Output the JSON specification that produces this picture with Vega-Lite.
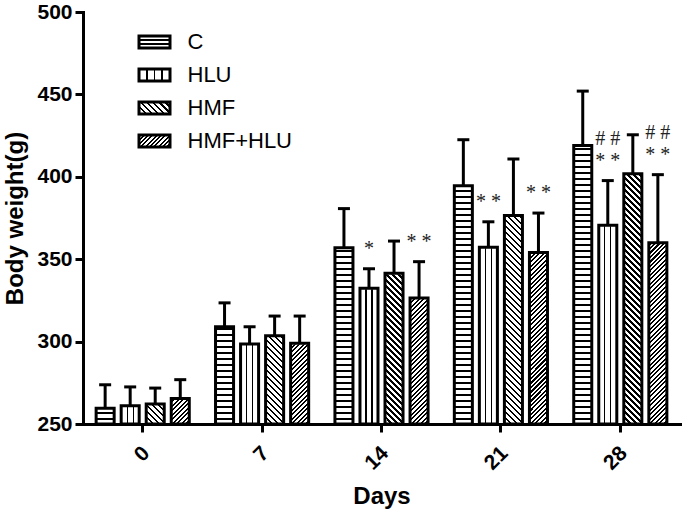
{
"$schema": "https://vega.github.io/schema/vega-lite/v6.json",
"width": 597, "height": 412,
"autosize": "none",
"padding": {"left": 83, "top": 12, "right": 10, "bottom": 85},
"background": "white",
"data": {"values": [
{"day":"0","group":"C","value":259.5,"err":273.8,"sig":"","sig2":""},
{"day":"0","group":"HLU","value":261.1,"err":272.5,"sig":"","sig2":""},
{"day":"0","group":"HMF","value":262.1,"err":271.8,"sig":"","sig2":""},
{"day":"0","group":"HMF+HLU","value":265.4,"err":276.9,"sig":"","sig2":""},
{"day":"7","group":"C","value":309,"err":323.5,"sig":"","sig2":""},
{"day":"7","group":"HLU","value":298.5,"err":309,"sig":"","sig2":""},
{"day":"7","group":"HMF","value":303.5,"err":315.5,"sig":"","sig2":""},
{"day":"7","group":"HMF+HLU","value":299,"err":315.5,"sig":"","sig2":""},
{"day":"14","group":"C","value":357,"err":380.7,"sig":"","sig2":""},
{"day":"14","group":"HLU","value":332.4,"err":344.2,"sig":"*","sig2":""},
{"day":"14","group":"HMF","value":341.5,"err":361,"sig":"","sig2":""},
{"day":"14","group":"HMF+HLU","value":326.5,"err":348.5,"sig":"* *","sig2":""},
{"day":"21","group":"C","value":394.5,"err":422.5,"sig":"","sig2":""},
{"day":"21","group":"HLU","value":357.3,"err":372.7,"sig":"* *","sig2":""},
{"day":"21","group":"HMF","value":376.5,"err":410.8,"sig":"","sig2":""},
{"day":"21","group":"HMF+HLU","value":354,"err":378,"sig":"* *","sig2":""},
{"day":"28","group":"C","value":419,"err":452,"sig":"","sig2":""},
{"day":"28","group":"HLU","value":370.6,"err":397.7,"sig":"* *","sig2":"# #"},
{"day":"28","group":"HMF","value":401.8,"err":425.5,"sig":"","sig2":""},
{"day":"28","group":"HMF+HLU","value":360,"err":401.3,"sig":"* *","sig2":"# #"}
]},
"encoding": {
"x": {"field":"day","type":"nominal","scale":{"domain":["0","7","14","21","28"],"paddingInner":0.22,"paddingOuter":0.11},"axis":{"title":"Days"}},
"xOffset": {"field":"group","type":"nominal","scale":{"domain":["C","HLU","HMF","HMF+HLU"],"paddingInner":0.28,"paddingOuter":0}},
"y": {"field":"value","type":"quantitative","scale":{"domain":[250,500],"zero":false,"nice":false},"axis":{"title":"Body weight(g)","values":[250,300,350,400,450,500]}}
},
"layer": [
{"transform":[{"filter":"datum.group==='C'"}],
 "mark":{"type":"bar","strokeWidth":0,"fill":{"gradient":"linear","x1":0,"y1":0,"x2":0,"y2":1,"stops":[
{"offset":0,"color":"#000"},{"offset":0.005,"color":"#000"},{"offset":0.005,"color":"#fff"},{"offset":0.02,"color":"#fff"},
{"offset":0.02,"color":"#000"},{"offset":0.025,"color":"#000"},{"offset":0.025,"color":"#fff"},{"offset":0.04,"color":"#fff"},
{"offset":0.04,"color":"#000"},{"offset":0.045,"color":"#000"},{"offset":0.045,"color":"#fff"},{"offset":0.06,"color":"#fff"},
{"offset":0.06,"color":"#000"},{"offset":0.065,"color":"#000"},{"offset":0.065,"color":"#fff"},{"offset":0.08,"color":"#fff"},
{"offset":0.08,"color":"#000"},{"offset":0.085,"color":"#000"},{"offset":0.085,"color":"#fff"},{"offset":0.1,"color":"#fff"},
{"offset":0.1,"color":"#000"},{"offset":0.105,"color":"#000"},{"offset":0.105,"color":"#fff"},{"offset":0.12,"color":"#fff"},
{"offset":0.12,"color":"#000"},{"offset":0.125,"color":"#000"},{"offset":0.125,"color":"#fff"},{"offset":0.14,"color":"#fff"},
{"offset":0.14,"color":"#000"},{"offset":0.145,"color":"#000"},{"offset":0.145,"color":"#fff"},{"offset":0.16,"color":"#fff"},
{"offset":0.16,"color":"#000"},{"offset":0.165,"color":"#000"},{"offset":0.165,"color":"#fff"},{"offset":0.18,"color":"#fff"},
{"offset":0.18,"color":"#000"},{"offset":0.185,"color":"#000"},{"offset":0.185,"color":"#fff"},{"offset":0.2,"color":"#fff"},
{"offset":0.2,"color":"#000"},{"offset":0.205,"color":"#000"},{"offset":0.205,"color":"#fff"},{"offset":0.22,"color":"#fff"},
{"offset":0.22,"color":"#000"},{"offset":0.225,"color":"#000"},{"offset":0.225,"color":"#fff"},{"offset":0.24,"color":"#fff"},
{"offset":0.24,"color":"#000"},{"offset":0.245,"color":"#000"},{"offset":0.245,"color":"#fff"},{"offset":0.26,"color":"#fff"},
{"offset":0.26,"color":"#000"},{"offset":0.265,"color":"#000"},{"offset":0.265,"color":"#fff"},{"offset":0.28,"color":"#fff"},
{"offset":0.28,"color":"#000"},{"offset":0.285,"color":"#000"},{"offset":0.285,"color":"#fff"},{"offset":0.3,"color":"#fff"},
{"offset":0.3,"color":"#000"},{"offset":0.305,"color":"#000"},{"offset":0.305,"color":"#fff"},{"offset":0.32,"color":"#fff"},
{"offset":0.32,"color":"#000"},{"offset":0.325,"color":"#000"},{"offset":0.325,"color":"#fff"},{"offset":0.34,"color":"#fff"},
{"offset":0.34,"color":"#000"},{"offset":0.345,"color":"#000"},{"offset":0.345,"color":"#fff"},{"offset":0.36,"color":"#fff"},
{"offset":0.36,"color":"#000"},{"offset":0.365,"color":"#000"},{"offset":0.365,"color":"#fff"},{"offset":0.38,"color":"#fff"},
{"offset":0.38,"color":"#000"},{"offset":0.385,"color":"#000"},{"offset":0.385,"color":"#fff"},{"offset":0.4,"color":"#fff"},
{"offset":0.4,"color":"#000"},{"offset":0.405,"color":"#000"},{"offset":0.405,"color":"#fff"},{"offset":0.42,"color":"#fff"},
{"offset":0.42,"color":"#000"},{"offset":0.425,"color":"#000"},{"offset":0.425,"color":"#fff"},{"offset":0.44,"color":"#fff"},
{"offset":0.44,"color":"#000"},{"offset":0.445,"color":"#000"},{"offset":0.445,"color":"#fff"},{"offset":0.46,"color":"#fff"},
{"offset":0.46,"color":"#000"},{"offset":0.465,"color":"#000"},{"offset":0.465,"color":"#fff"},{"offset":0.48,"color":"#fff"},
{"offset":0.48,"color":"#000"},{"offset":0.485,"color":"#000"},{"offset":0.485,"color":"#fff"},{"offset":0.5,"color":"#fff"},
{"offset":0.5,"color":"#000"},{"offset":0.505,"color":"#000"},{"offset":0.505,"color":"#fff"},{"offset":0.52,"color":"#fff"},
{"offset":0.52,"color":"#000"},{"offset":0.525,"color":"#000"},{"offset":0.525,"color":"#fff"},{"offset":0.54,"color":"#fff"},
{"offset":0.54,"color":"#000"},{"offset":0.545,"color":"#000"},{"offset":0.545,"color":"#fff"},{"offset":0.56,"color":"#fff"},
{"offset":0.56,"color":"#000"},{"offset":0.565,"color":"#000"},{"offset":0.565,"color":"#fff"},{"offset":0.58,"color":"#fff"},
{"offset":0.58,"color":"#000"},{"offset":0.585,"color":"#000"},{"offset":0.585,"color":"#fff"},{"offset":0.6,"color":"#fff"},
{"offset":0.6,"color":"#000"},{"offset":0.605,"color":"#000"},{"offset":0.605,"color":"#fff"},{"offset":0.62,"color":"#fff"},
{"offset":0.62,"color":"#000"},{"offset":0.625,"color":"#000"},{"offset":0.625,"color":"#fff"},{"offset":0.64,"color":"#fff"},
{"offset":0.64,"color":"#000"},{"offset":0.645,"color":"#000"},{"offset":0.645,"color":"#fff"},{"offset":0.66,"color":"#fff"},
{"offset":0.66,"color":"#000"},{"offset":0.665,"color":"#000"},{"offset":0.665,"color":"#fff"},{"offset":0.68,"color":"#fff"},
{"offset":0.68,"color":"#000"},{"offset":0.685,"color":"#000"},{"offset":0.685,"color":"#fff"},{"offset":0.7,"color":"#fff"},
{"offset":0.7,"color":"#000"},{"offset":0.705,"color":"#000"},{"offset":0.705,"color":"#fff"},{"offset":0.72,"color":"#fff"},
{"offset":0.72,"color":"#000"},{"offset":0.725,"color":"#000"},{"offset":0.725,"color":"#fff"},{"offset":0.74,"color":"#fff"},
{"offset":0.74,"color":"#000"},{"offset":0.745,"color":"#000"},{"offset":0.745,"color":"#fff"},{"offset":0.76,"color":"#fff"},
{"offset":0.76,"color":"#000"},{"offset":0.765,"color":"#000"},{"offset":0.765,"color":"#fff"},{"offset":0.78,"color":"#fff"},
{"offset":0.78,"color":"#000"},{"offset":0.785,"color":"#000"},{"offset":0.785,"color":"#fff"},{"offset":0.8,"color":"#fff"},
{"offset":0.8,"color":"#000"},{"offset":0.805,"color":"#000"},{"offset":0.805,"color":"#fff"},{"offset":0.82,"color":"#fff"},
{"offset":0.82,"color":"#000"},{"offset":0.825,"color":"#000"},{"offset":0.825,"color":"#fff"},{"offset":0.84,"color":"#fff"},
{"offset":0.84,"color":"#000"},{"offset":0.845,"color":"#000"},{"offset":0.845,"color":"#fff"},{"offset":0.86,"color":"#fff"},
{"offset":0.86,"color":"#000"},{"offset":0.865,"color":"#000"},{"offset":0.865,"color":"#fff"},{"offset":0.88,"color":"#fff"},
{"offset":0.88,"color":"#000"},{"offset":0.885,"color":"#000"},{"offset":0.885,"color":"#fff"},{"offset":0.9,"color":"#fff"},
{"offset":0.9,"color":"#000"},{"offset":0.905,"color":"#000"},{"offset":0.905,"color":"#fff"},{"offset":0.92,"color":"#fff"},
{"offset":0.92,"color":"#000"},{"offset":0.925,"color":"#000"},{"offset":0.925,"color":"#fff"},{"offset":0.94,"color":"#fff"},
{"offset":0.94,"color":"#000"},{"offset":0.945,"color":"#000"},{"offset":0.945,"color":"#fff"},{"offset":0.96,"color":"#fff"},
{"offset":0.96,"color":"#000"},{"offset":0.965,"color":"#000"},{"offset":0.965,"color":"#fff"},{"offset":0.98,"color":"#fff"},
{"offset":0.98,"color":"#000"},{"offset":0.985,"color":"#000"},{"offset":0.985,"color":"#fff"},{"offset":1,"color":"#fff"}
]}},
 "encoding":{"y":{"datum":432,"type":"quantitative"},"y2":{"datum":250}}},
{"transform":[{"filter":"datum.group==='HLU'"}],
 "mark":{"type":"bar","strokeWidth":0,"fill":{"gradient":"linear","x1":0,"y1":0,"x2":1,"y2":0,"stops":[
{"offset":0,"color":"#fff"},{"offset":0.3,"color":"#fff"},{"offset":0.3,"color":"#000"},{"offset":0.37,"color":"#000"},{"offset":0.37,"color":"#fff"},
{"offset":0.63,"color":"#fff"},{"offset":0.63,"color":"#000"},{"offset":0.7,"color":"#000"},{"offset":0.7,"color":"#fff"},{"offset":1,"color":"#fff"}
]}},
 "encoding":{"y2":{"datum":250}}},
{"transform":[{"filter":"datum.group==='HMF'"}],
 "mark":{"type":"bar","strokeWidth":0,"fill":{"gradient":"linear","x1":0,"y1":1,"x2":0.0678,"y2":-0.0595,"stops":[
{"offset":0,"color":"#000"},{"offset":0.008,"color":"#000"},{"offset":0.008,"color":"#fff"},{"offset":0.02,"color":"#fff"},
{"offset":0.02,"color":"#000"},{"offset":0.028,"color":"#000"},{"offset":0.028,"color":"#fff"},{"offset":0.04,"color":"#fff"},
{"offset":0.04,"color":"#000"},{"offset":0.048,"color":"#000"},{"offset":0.048,"color":"#fff"},{"offset":0.06,"color":"#fff"},
{"offset":0.06,"color":"#000"},{"offset":0.068,"color":"#000"},{"offset":0.068,"color":"#fff"},{"offset":0.08,"color":"#fff"},
{"offset":0.08,"color":"#000"},{"offset":0.088,"color":"#000"},{"offset":0.088,"color":"#fff"},{"offset":0.1,"color":"#fff"},
{"offset":0.1,"color":"#000"},{"offset":0.108,"color":"#000"},{"offset":0.108,"color":"#fff"},{"offset":0.12,"color":"#fff"},
{"offset":0.12,"color":"#000"},{"offset":0.128,"color":"#000"},{"offset":0.128,"color":"#fff"},{"offset":0.14,"color":"#fff"},
{"offset":0.14,"color":"#000"},{"offset":0.148,"color":"#000"},{"offset":0.148,"color":"#fff"},{"offset":0.16,"color":"#fff"},
{"offset":0.16,"color":"#000"},{"offset":0.168,"color":"#000"},{"offset":0.168,"color":"#fff"},{"offset":0.18,"color":"#fff"},
{"offset":0.18,"color":"#000"},{"offset":0.188,"color":"#000"},{"offset":0.188,"color":"#fff"},{"offset":0.2,"color":"#fff"},
{"offset":0.2,"color":"#000"},{"offset":0.208,"color":"#000"},{"offset":0.208,"color":"#fff"},{"offset":0.22,"color":"#fff"},
{"offset":0.22,"color":"#000"},{"offset":0.228,"color":"#000"},{"offset":0.228,"color":"#fff"},{"offset":0.24,"color":"#fff"},
{"offset":0.24,"color":"#000"},{"offset":0.248,"color":"#000"},{"offset":0.248,"color":"#fff"},{"offset":0.26,"color":"#fff"},
{"offset":0.26,"color":"#000"},{"offset":0.268,"color":"#000"},{"offset":0.268,"color":"#fff"},{"offset":0.28,"color":"#fff"},
{"offset":0.28,"color":"#000"},{"offset":0.288,"color":"#000"},{"offset":0.288,"color":"#fff"},{"offset":0.3,"color":"#fff"},
{"offset":0.3,"color":"#000"},{"offset":0.308,"color":"#000"},{"offset":0.308,"color":"#fff"},{"offset":0.32,"color":"#fff"},
{"offset":0.32,"color":"#000"},{"offset":0.328,"color":"#000"},{"offset":0.328,"color":"#fff"},{"offset":0.34,"color":"#fff"},
{"offset":0.34,"color":"#000"},{"offset":0.348,"color":"#000"},{"offset":0.348,"color":"#fff"},{"offset":0.36,"color":"#fff"},
{"offset":0.36,"color":"#000"},{"offset":0.368,"color":"#000"},{"offset":0.368,"color":"#fff"},{"offset":0.38,"color":"#fff"},
{"offset":0.38,"color":"#000"},{"offset":0.388,"color":"#000"},{"offset":0.388,"color":"#fff"},{"offset":0.4,"color":"#fff"},
{"offset":0.4,"color":"#000"},{"offset":0.408,"color":"#000"},{"offset":0.408,"color":"#fff"},{"offset":0.42,"color":"#fff"},
{"offset":0.42,"color":"#000"},{"offset":0.428,"color":"#000"},{"offset":0.428,"color":"#fff"},{"offset":0.44,"color":"#fff"},
{"offset":0.44,"color":"#000"},{"offset":0.448,"color":"#000"},{"offset":0.448,"color":"#fff"},{"offset":0.46,"color":"#fff"},
{"offset":0.46,"color":"#000"},{"offset":0.468,"color":"#000"},{"offset":0.468,"color":"#fff"},{"offset":0.48,"color":"#fff"},
{"offset":0.48,"color":"#000"},{"offset":0.488,"color":"#000"},{"offset":0.488,"color":"#fff"},{"offset":0.5,"color":"#fff"},
{"offset":0.5,"color":"#000"},{"offset":0.508,"color":"#000"},{"offset":0.508,"color":"#fff"},{"offset":0.52,"color":"#fff"},
{"offset":0.52,"color":"#000"},{"offset":0.528,"color":"#000"},{"offset":0.528,"color":"#fff"},{"offset":0.54,"color":"#fff"},
{"offset":0.54,"color":"#000"},{"offset":0.548,"color":"#000"},{"offset":0.548,"color":"#fff"},{"offset":0.56,"color":"#fff"},
{"offset":0.56,"color":"#000"},{"offset":0.568,"color":"#000"},{"offset":0.568,"color":"#fff"},{"offset":0.58,"color":"#fff"},
{"offset":0.58,"color":"#000"},{"offset":0.588,"color":"#000"},{"offset":0.588,"color":"#fff"},{"offset":0.6,"color":"#fff"},
{"offset":0.6,"color":"#000"},{"offset":0.608,"color":"#000"},{"offset":0.608,"color":"#fff"},{"offset":0.62,"color":"#fff"},
{"offset":0.62,"color":"#000"},{"offset":0.628,"color":"#000"},{"offset":0.628,"color":"#fff"},{"offset":0.64,"color":"#fff"},
{"offset":0.64,"color":"#000"},{"offset":0.648,"color":"#000"},{"offset":0.648,"color":"#fff"},{"offset":0.66,"color":"#fff"},
{"offset":0.66,"color":"#000"},{"offset":0.668,"color":"#000"},{"offset":0.668,"color":"#fff"},{"offset":0.68,"color":"#fff"},
{"offset":0.68,"color":"#000"},{"offset":0.688,"color":"#000"},{"offset":0.688,"color":"#fff"},{"offset":0.7,"color":"#fff"},
{"offset":0.7,"color":"#000"},{"offset":0.708,"color":"#000"},{"offset":0.708,"color":"#fff"},{"offset":0.72,"color":"#fff"},
{"offset":0.72,"color":"#000"},{"offset":0.728,"color":"#000"},{"offset":0.728,"color":"#fff"},{"offset":0.74,"color":"#fff"},
{"offset":0.74,"color":"#000"},{"offset":0.748,"color":"#000"},{"offset":0.748,"color":"#fff"},{"offset":0.76,"color":"#fff"},
{"offset":0.76,"color":"#000"},{"offset":0.768,"color":"#000"},{"offset":0.768,"color":"#fff"},{"offset":0.78,"color":"#fff"},
{"offset":0.78,"color":"#000"},{"offset":0.788,"color":"#000"},{"offset":0.788,"color":"#fff"},{"offset":0.8,"color":"#fff"},
{"offset":0.8,"color":"#000"},{"offset":0.808,"color":"#000"},{"offset":0.808,"color":"#fff"},{"offset":0.82,"color":"#fff"},
{"offset":0.82,"color":"#000"},{"offset":0.828,"color":"#000"},{"offset":0.828,"color":"#fff"},{"offset":0.84,"color":"#fff"},
{"offset":0.84,"color":"#000"},{"offset":0.848,"color":"#000"},{"offset":0.848,"color":"#fff"},{"offset":0.86,"color":"#fff"},
{"offset":0.86,"color":"#000"},{"offset":0.868,"color":"#000"},{"offset":0.868,"color":"#fff"},{"offset":0.88,"color":"#fff"},
{"offset":0.88,"color":"#000"},{"offset":0.888,"color":"#000"},{"offset":0.888,"color":"#fff"},{"offset":0.9,"color":"#fff"},
{"offset":0.9,"color":"#000"},{"offset":0.908,"color":"#000"},{"offset":0.908,"color":"#fff"},{"offset":0.92,"color":"#fff"},
{"offset":0.92,"color":"#000"},{"offset":0.928,"color":"#000"},{"offset":0.928,"color":"#fff"},{"offset":0.94,"color":"#fff"},
{"offset":0.94,"color":"#000"},{"offset":0.948,"color":"#000"},{"offset":0.948,"color":"#fff"},{"offset":0.96,"color":"#fff"},
{"offset":0.96,"color":"#000"},{"offset":0.968,"color":"#000"},{"offset":0.968,"color":"#fff"},{"offset":0.98,"color":"#fff"},
{"offset":0.98,"color":"#000"},{"offset":0.988,"color":"#000"},{"offset":0.988,"color":"#fff"},{"offset":1,"color":"#fff"}
]}},
 "encoding":{"y":{"datum":421,"type":"quantitative"},"y2":{"datum":250}}},
{"transform":[{"filter":"datum.group==='HMF+HLU'"}],
 "mark":{"type":"bar","strokeWidth":0,"fill":{"gradient":"linear","x1":0,"y1":0,"x2":0.0941,"y2":1.0789,"stops":[
{"offset":0,"color":"#000"},{"offset":0.009,"color":"#000"},{"offset":0.009,"color":"#fff"},{"offset":0.02,"color":"#fff"},
{"offset":0.02,"color":"#000"},{"offset":0.029,"color":"#000"},{"offset":0.029,"color":"#fff"},{"offset":0.04,"color":"#fff"},
{"offset":0.04,"color":"#000"},{"offset":0.049,"color":"#000"},{"offset":0.049,"color":"#fff"},{"offset":0.06,"color":"#fff"},
{"offset":0.06,"color":"#000"},{"offset":0.069,"color":"#000"},{"offset":0.069,"color":"#fff"},{"offset":0.08,"color":"#fff"},
{"offset":0.08,"color":"#000"},{"offset":0.089,"color":"#000"},{"offset":0.089,"color":"#fff"},{"offset":0.1,"color":"#fff"},
{"offset":0.1,"color":"#000"},{"offset":0.109,"color":"#000"},{"offset":0.109,"color":"#fff"},{"offset":0.12,"color":"#fff"},
{"offset":0.12,"color":"#000"},{"offset":0.129,"color":"#000"},{"offset":0.129,"color":"#fff"},{"offset":0.14,"color":"#fff"},
{"offset":0.14,"color":"#000"},{"offset":0.149,"color":"#000"},{"offset":0.149,"color":"#fff"},{"offset":0.16,"color":"#fff"},
{"offset":0.16,"color":"#000"},{"offset":0.169,"color":"#000"},{"offset":0.169,"color":"#fff"},{"offset":0.18,"color":"#fff"},
{"offset":0.18,"color":"#000"},{"offset":0.189,"color":"#000"},{"offset":0.189,"color":"#fff"},{"offset":0.2,"color":"#fff"},
{"offset":0.2,"color":"#000"},{"offset":0.209,"color":"#000"},{"offset":0.209,"color":"#fff"},{"offset":0.22,"color":"#fff"},
{"offset":0.22,"color":"#000"},{"offset":0.229,"color":"#000"},{"offset":0.229,"color":"#fff"},{"offset":0.24,"color":"#fff"},
{"offset":0.24,"color":"#000"},{"offset":0.249,"color":"#000"},{"offset":0.249,"color":"#fff"},{"offset":0.26,"color":"#fff"},
{"offset":0.26,"color":"#000"},{"offset":0.269,"color":"#000"},{"offset":0.269,"color":"#fff"},{"offset":0.28,"color":"#fff"},
{"offset":0.28,"color":"#000"},{"offset":0.289,"color":"#000"},{"offset":0.289,"color":"#fff"},{"offset":0.3,"color":"#fff"},
{"offset":0.3,"color":"#000"},{"offset":0.309,"color":"#000"},{"offset":0.309,"color":"#fff"},{"offset":0.32,"color":"#fff"},
{"offset":0.32,"color":"#000"},{"offset":0.329,"color":"#000"},{"offset":0.329,"color":"#fff"},{"offset":0.34,"color":"#fff"},
{"offset":0.34,"color":"#000"},{"offset":0.349,"color":"#000"},{"offset":0.349,"color":"#fff"},{"offset":0.36,"color":"#fff"},
{"offset":0.36,"color":"#000"},{"offset":0.369,"color":"#000"},{"offset":0.369,"color":"#fff"},{"offset":0.38,"color":"#fff"},
{"offset":0.38,"color":"#000"},{"offset":0.389,"color":"#000"},{"offset":0.389,"color":"#fff"},{"offset":0.4,"color":"#fff"},
{"offset":0.4,"color":"#000"},{"offset":0.409,"color":"#000"},{"offset":0.409,"color":"#fff"},{"offset":0.42,"color":"#fff"},
{"offset":0.42,"color":"#000"},{"offset":0.429,"color":"#000"},{"offset":0.429,"color":"#fff"},{"offset":0.44,"color":"#fff"},
{"offset":0.44,"color":"#000"},{"offset":0.449,"color":"#000"},{"offset":0.449,"color":"#fff"},{"offset":0.46,"color":"#fff"},
{"offset":0.46,"color":"#000"},{"offset":0.469,"color":"#000"},{"offset":0.469,"color":"#fff"},{"offset":0.48,"color":"#fff"},
{"offset":0.48,"color":"#000"},{"offset":0.489,"color":"#000"},{"offset":0.489,"color":"#fff"},{"offset":0.5,"color":"#fff"},
{"offset":0.5,"color":"#000"},{"offset":0.509,"color":"#000"},{"offset":0.509,"color":"#fff"},{"offset":0.52,"color":"#fff"},
{"offset":0.52,"color":"#000"},{"offset":0.529,"color":"#000"},{"offset":0.529,"color":"#fff"},{"offset":0.54,"color":"#fff"},
{"offset":0.54,"color":"#000"},{"offset":0.549,"color":"#000"},{"offset":0.549,"color":"#fff"},{"offset":0.56,"color":"#fff"},
{"offset":0.56,"color":"#000"},{"offset":0.569,"color":"#000"},{"offset":0.569,"color":"#fff"},{"offset":0.58,"color":"#fff"},
{"offset":0.58,"color":"#000"},{"offset":0.589,"color":"#000"},{"offset":0.589,"color":"#fff"},{"offset":0.6,"color":"#fff"},
{"offset":0.6,"color":"#000"},{"offset":0.609,"color":"#000"},{"offset":0.609,"color":"#fff"},{"offset":0.62,"color":"#fff"},
{"offset":0.62,"color":"#000"},{"offset":0.629,"color":"#000"},{"offset":0.629,"color":"#fff"},{"offset":0.64,"color":"#fff"},
{"offset":0.64,"color":"#000"},{"offset":0.649,"color":"#000"},{"offset":0.649,"color":"#fff"},{"offset":0.66,"color":"#fff"},
{"offset":0.66,"color":"#000"},{"offset":0.669,"color":"#000"},{"offset":0.669,"color":"#fff"},{"offset":0.68,"color":"#fff"},
{"offset":0.68,"color":"#000"},{"offset":0.689,"color":"#000"},{"offset":0.689,"color":"#fff"},{"offset":0.7,"color":"#fff"},
{"offset":0.7,"color":"#000"},{"offset":0.709,"color":"#000"},{"offset":0.709,"color":"#fff"},{"offset":0.72,"color":"#fff"},
{"offset":0.72,"color":"#000"},{"offset":0.729,"color":"#000"},{"offset":0.729,"color":"#fff"},{"offset":0.74,"color":"#fff"},
{"offset":0.74,"color":"#000"},{"offset":0.749,"color":"#000"},{"offset":0.749,"color":"#fff"},{"offset":0.76,"color":"#fff"},
{"offset":0.76,"color":"#000"},{"offset":0.769,"color":"#000"},{"offset":0.769,"color":"#fff"},{"offset":0.78,"color":"#fff"},
{"offset":0.78,"color":"#000"},{"offset":0.789,"color":"#000"},{"offset":0.789,"color":"#fff"},{"offset":0.8,"color":"#fff"},
{"offset":0.8,"color":"#000"},{"offset":0.809,"color":"#000"},{"offset":0.809,"color":"#fff"},{"offset":0.82,"color":"#fff"},
{"offset":0.82,"color":"#000"},{"offset":0.829,"color":"#000"},{"offset":0.829,"color":"#fff"},{"offset":0.84,"color":"#fff"},
{"offset":0.84,"color":"#000"},{"offset":0.849,"color":"#000"},{"offset":0.849,"color":"#fff"},{"offset":0.86,"color":"#fff"},
{"offset":0.86,"color":"#000"},{"offset":0.869,"color":"#000"},{"offset":0.869,"color":"#fff"},{"offset":0.88,"color":"#fff"},
{"offset":0.88,"color":"#000"},{"offset":0.889,"color":"#000"},{"offset":0.889,"color":"#fff"},{"offset":0.9,"color":"#fff"},
{"offset":0.9,"color":"#000"},{"offset":0.909,"color":"#000"},{"offset":0.909,"color":"#fff"},{"offset":0.92,"color":"#fff"},
{"offset":0.92,"color":"#000"},{"offset":0.929,"color":"#000"},{"offset":0.929,"color":"#fff"},{"offset":0.94,"color":"#fff"},
{"offset":0.94,"color":"#000"},{"offset":0.949,"color":"#000"},{"offset":0.949,"color":"#fff"},{"offset":0.96,"color":"#fff"},
{"offset":0.96,"color":"#000"},{"offset":0.969,"color":"#000"},{"offset":0.969,"color":"#fff"},{"offset":0.98,"color":"#fff"},
{"offset":0.98,"color":"#000"},{"offset":0.989,"color":"#000"},{"offset":0.989,"color":"#fff"},{"offset":1,"color":"#fff"}
]}},
 "encoding":{"y":{"datum":375.5,"type":"quantitative"},"y2":{"datum":250}}},
{"mark":{"type":"bar","fill":"white","stroke":"white","strokeWidth":2},
 "encoding":{"y2":{"datum":500}}},
{"mark":{"type":"bar","fill":"transparent","stroke":"#000","strokeWidth":3,"strokeJoin":"miter"},
 "encoding":{"y2":{"datum":250}}},
{"transform":[{"filter":"false"}],
 "mark":{"type":"bar","stroke":"#000","strokeWidth":3},
 "encoding":{"y2":{"datum":250},
  "fill":{"field":"group","type":"nominal","scale":{"domain":["C","HLU","HMF","HMF+HLU"],"range":[
   {"expr":"{gradient:'linear',x1:0,y1:0,x2:0,y2:1,stops:[{offset:0,color:'#fff'},{offset:0.28,color:'#fff'},{offset:0.28,color:'#000'},{offset:0.39,color:'#000'},{offset:0.39,color:'#fff'},{offset:0.61,color:'#fff'},{offset:0.61,color:'#000'},{offset:0.72,color:'#000'},{offset:0.72,color:'#fff'},{offset:1,color:'#fff'}]}"},
   {"expr":"{gradient:'linear',x1:0,y1:0,x2:1,y2:0,stops:[{offset:0,color:'#fff'},{offset:0.225,color:'#fff'},{offset:0.225,color:'#000'},{offset:0.275,color:'#000'},{offset:0.275,color:'#fff'},{offset:0.475,color:'#fff'},{offset:0.475,color:'#000'},{offset:0.525,color:'#000'},{offset:0.525,color:'#fff'},{offset:0.725,color:'#fff'},{offset:0.725,color:'#000'},{offset:0.775,color:'#000'},{offset:0.775,color:'#fff'},{offset:1,color:'#fff'}]}"},
   {"expr":"{gradient:'linear',x1:0,y1:1,x2:1.206,y2:0.533,stops:[{offset:0,color:'#000'},{offset:0.057,color:'#000'},{offset:0.057,color:'#fff'},{offset:0.143,color:'#fff'},{offset:0.143,color:'#000'},{offset:0.2,color:'#000'},{offset:0.2,color:'#fff'},{offset:0.286,color:'#fff'},{offset:0.286,color:'#000'},{offset:0.343,color:'#000'},{offset:0.343,color:'#fff'},{offset:0.429,color:'#fff'},{offset:0.429,color:'#000'},{offset:0.486,color:'#000'},{offset:0.486,color:'#fff'},{offset:0.571,color:'#fff'},{offset:0.571,color:'#000'},{offset:0.628,color:'#000'},{offset:0.628,color:'#fff'},{offset:0.714,color:'#fff'},{offset:0.714,color:'#000'},{offset:0.771,color:'#000'},{offset:0.771,color:'#fff'},{offset:0.857,color:'#fff'},{offset:0.857,color:'#000'},{offset:0.914,color:'#000'},{offset:0.914,color:'#fff'},{offset:1,color:'#fff'}]}"},
   {"expr":"{gradient:'linear',x1:0,y1:0,x2:1.206,y2:0.467,stops:[{offset:0,color:'#000'},{offset:0.045,color:'#000'},{offset:0.045,color:'#fff'},{offset:0.1,color:'#fff'},{offset:0.1,color:'#000'},{offset:0.145,color:'#000'},{offset:0.145,color:'#fff'},{offset:0.2,color:'#fff'},{offset:0.2,color:'#000'},{offset:0.245,color:'#000'},{offset:0.245,color:'#fff'},{offset:0.3,color:'#fff'},{offset:0.3,color:'#000'},{offset:0.345,color:'#000'},{offset:0.345,color:'#fff'},{offset:0.4,color:'#fff'},{offset:0.4,color:'#000'},{offset:0.445,color:'#000'},{offset:0.445,color:'#fff'},{offset:0.5,color:'#fff'},{offset:0.5,color:'#000'},{offset:0.545,color:'#000'},{offset:0.545,color:'#fff'},{offset:0.6,color:'#fff'},{offset:0.6,color:'#000'},{offset:0.645,color:'#000'},{offset:0.645,color:'#fff'},{offset:0.7,color:'#fff'},{offset:0.7,color:'#000'},{offset:0.745,color:'#000'},{offset:0.745,color:'#fff'},{offset:0.8,color:'#fff'},{offset:0.8,color:'#000'},{offset:0.845,color:'#000'},{offset:0.845,color:'#fff'},{offset:0.9,color:'#fff'},{offset:0.9,color:'#000'},{offset:0.945,color:'#000'},{offset:0.945,color:'#fff'},{offset:1,color:'#fff'}]}"}
  ]},
   "legend":{"title":null,"orient":"none","legendX":54.5,"legendY":13,"padding":0,
    "symbolType":"M-1,-0.387H1V0.387H-1Z","symbolSize":961,"symbolStrokeWidth":3,"symbolStrokeColor":"#000","symbolOpacity":1,
    "labelFont":"Liberation Sans","labelFontSize":22,"labelColor":"#000","labelOffset":16,"rowPadding":4}}}},
{"mark":{"type":"rule","strokeWidth":3,"color":"#000"},
 "encoding":{"y2":{"field":"err"}}},
{"mark":{"type":"tick","size":12,"thickness":3,"color":"#000","opacity":1},
 "encoding":{"y":{"field":"err","type":"quantitative"}}},
{"transform":[{"filter":"datum.sig !== ''"}],
 "mark":{"type":"text","font":"Liberation Serif","fontSize":20,"baseline":"bottom","align":"center","dy":-10,"color":"#222"},
 "encoding":{"y":{"field":"err","type":"quantitative"},"text":{"field":"sig"}}},
{"transform":[{"filter":"datum.sig2 !== ''"}],
 "mark":{"type":"text","font":"Liberation Serif","fontSize":20,"baseline":"bottom","align":"center","dy":-32,"color":"#222"},
 "encoding":{"y":{"field":"err","type":"quantitative"},"text":{"field":"sig2"}}}
],
"config": {
 "view": {"stroke": null},
 "axis": {"domainColor":"#000","domainWidth":3,"domainCap":"square","tickColor":"#000","tickWidth":3,"tickSize":8,"labelColor":"#000","labelFont":"Liberation Sans","labelFontWeight":"bold","labelFontSize":21,"titleFont":"Liberation Sans","titleFontWeight":"bold","titleFontSize":24,"titleColor":"#000","grid":false},
 "axisY": {"labelPadding":3,"titlePadding":9},
 "axisX": {"labelAngle":-45,"labelPadding":10,"labelOffset":-4,"titlePadding":11}
}
}
